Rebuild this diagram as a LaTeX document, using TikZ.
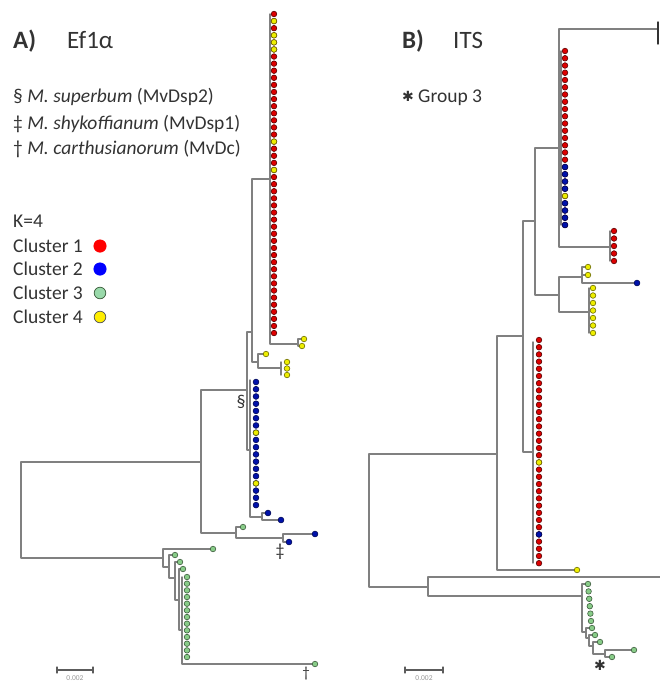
\documentclass[tikz,border=0pt]{standalone}
\usepackage{fontspec}
\setmainfont{Carlito}
\newfontfamily\symbfont{DejaVu Sans}
\definecolor{ddqqqq}{rgb}{0.8667,0,0}
\definecolor{qqrraa}{rgb}{0,0.0667,0.6667}
\definecolor{eeeeqq}{rgb}{0.9333,0.9333,0}
\definecolor{yyccyy}{rgb}{0.5333,0.8,0.5333}
\definecolor{yqyqyq}{rgb}{0.5,0.5,0.5}
\definecolor{tttttt}{rgb}{0.2,0.2,0.2}
\definecolor{ffqqqq}{rgb}{1,0,0}
\definecolor{qqqqff}{rgb}{0,0,1}
\definecolor{zzdzaa}{rgb}{0.6,0.851,0.6667}
\definecolor{ffeeqq}{rgb}{1,0.9333,0}
\definecolor{zzzzzz}{rgb}{0.6,0.6,0.6}

\begin{document}
\begin{tikzpicture}[line cap=round,line join=round,x=1pt,y=-1pt,
	branch/.style={line width=1.4pt,color=yqyqyq},
	leaf/.style={line width=0.6pt},
	reddot/.style={leaf,fill=ddqqqq,draw=ddqqqq!40!black},
	bluedot/.style={leaf,fill=qqrraa,draw=qqrraa!50!black},
	yellowdot/.style={leaf,fill=eeeeqq,draw=eeeeqq!45!black},
	greendot/.style={leaf,fill=yyccyy,draw=yyccyy!45!black},
	lbl/.style={anchor=base west,inner sep=0pt,color=tttttt,font=\fontsize{19.5}{23}\selectfont},
	title/.style={lbl,font=\fontsize{25}{30}\selectfont},
	symb/.style={inner sep=0pt,color=tttttt,font=\fontsize{18}{20}\selectfont},
	star/.style={inner sep=0pt,color=tttttt,font=\symbfont\fontsize{14}{15}\selectfont},
	scalebar/.style={line width=1.2pt,color=tttttt!80},
	scalelbl/.style={inner sep=0pt,color=zzzzzz,font=\fontsize{7.5}{8}\selectfont}]
		\useasboundingbox (0,0) rectangle (660,683);
		% A) Ef1a
		\node [title,font=\fontsize{25}{30}\selectfont\bfseries] (panelA) at (13,48) {A)};
		\node [title] (geneA) at (67,48) {Ef1α};
		\node [lbl] (superbum) at (13,102) {§ \textit{M. superbum} (MvDsp2)};
		\node [lbl] (shykoff) at (13,129) {‡ \textit{M. shykoffianum} (MvDsp1)};
		\node [lbl] (carthus) at (13,154) {† \textit{M. carthusianorum} (MvDc)};
		\node [lbl] (kvalue) at (13,227) {K=4};
		\node [lbl] (clusterA) at (13,252) {Cluster 1};
		\node [lbl] (clusterB) at (13,275) {Cluster 2};
		\node [lbl] (clusterC) at (13,299) {Cluster 3};
		\node [lbl] (clusterD) at (13,323) {Cluster 4};
		\draw [fill=ffqqqq,draw=ffqqqq] (100,246) circle (6.3pt);
		\draw [fill=qqqqff,draw=qqqqff] (100,269) circle (6.3pt);
		\draw [fill=zzdzaa,draw=yyccyy!50!black,line width=0.8pt] (100,293) circle (5.8pt);
		\draw [fill=ffeeqq,draw=tttttt!80,line width=0.8pt] (100,317) circle (5.8pt);
		% tree A
		\draw [branch] (201,462) -- (21,462) -- (21,558) -- (163,558);
		\draw [branch] (247,390) -- (201,390) -- (201,533) -- (236,533);
		\draw [branch] (252,332) -- (247,332) -- (247,450) -- (250,450);
		\draw [branch] (270,179) -- (252,179) -- (252,362) -- (258,362);
		\draw [branch] (270,14) -- (270,344) -- (298,344);
		\draw [branch] (304,339) -- (298,339) -- (298,346) -- (302,346);
		\draw [branch] (266,354) -- (258,354) -- (258,368) -- (281,368);
		\draw [branch] (281,362) -- (281,375);
		\draw [branch] (250,380) -- (250,517) -- (262,517);
		\draw [branch] (268,513) -- (262,513) -- (262,520) -- (281,520);
		\draw [branch] (243,527) -- (236,527) -- (236,538) -- (283,538);
		\draw [branch] (315,534) -- (283,534) -- (283,542) -- (289,542);
		\draw [branch] (213,549) -- (163,549) -- (163,567) -- (169,567);
		\draw [branch] (175,555) -- (169,555) -- (169,578) -- (175,578);
		\draw [branch] (180,562) -- (175,562) -- (175,600) -- (179,600);
		\draw [branch] (183,569) -- (179,569) -- (179,630) -- (182,630);
		\draw [branch] (182,577) -- (182,664) -- (315,664);
		\foreach \i in {0,...,45} \draw [reddot] (274,14+7.09*\i) circle (2.8pt);
		\foreach \i in {1,3,4,5,18,22} \draw [yellowdot] (274,14+7.09*\i) circle (2.8pt);
		\draw [yellowdot] (304,339) circle (2.8pt);
		\draw [yellowdot] (302,346) circle (2.8pt);
		\draw [yellowdot] (266,354) circle (2.8pt);
		\foreach \i in {0,1,2} \draw [yellowdot] (287,362+6.5*\i) circle (2.8pt);
		\foreach \i in {0,...,17} \draw [bluedot] (256,382+7.24*\i) circle (2.9pt);
		\foreach \i in {7,14} \draw [yellowdot] (256,382+7.24*\i) circle (2.8pt);
		\draw [bluedot] (268,513) circle (2.9pt);
		\draw [bluedot] (281,520) circle (2.9pt);
		\draw [greendot] (243,527) circle (2.8pt);
		\draw [bluedot] (315,534) circle (2.9pt);
		\draw [bluedot] (289,542) circle (2.9pt);
		\draw [greendot] (213,549) circle (2.8pt);
		\draw [greendot] (175,555) circle (2.8pt);
		\draw [greendot] (180,562) circle (2.8pt);
		\draw [greendot] (183,569) circle (2.8pt);
		\foreach \i in {0,...,12} \draw [greendot] (187,577+6.67*\i) circle (2.8pt);
		\draw [greendot] (315,664) circle (2.8pt);
		\node [symb] (sect) at (241,402) {§};
		\node [symb] (ddag) at (280,552) {‡};
		\node [symb,font=\fontsize{15}{18}\selectfont] (sdag) at (306,674) {†};
		\draw [scalebar] (57,670) -- (93,670);
		\draw [scalebar] (57,667) -- (57,673);
		\draw [scalebar] (93,667) -- (93,673);
		\node [scalelbl] (scaleA) at (75,678) {0.002};
		% B) ITS
		\node [title,font=\fontsize{25}{30}\selectfont\bfseries] (panelB) at (402,48) {B)};
		\node [title] (geneB) at (453,48) {ITS};
		\node [star] (astB) at (408,96) {✱};
		\node [lbl] (groupC) at (418,102) {Group 3};
		% tree B
		\draw [branch] (497,454) -- (369,454) -- (369,587) -- (428,587);
		\draw [branch] (660,577) -- (428,577) -- (428,596) -- (582,596);
		\draw [branch] (523,336) -- (497,336) -- (497,570) -- (577,570);
		\draw [branch] (535,221) -- (523,221) -- (523,452) -- (533,452);
		\draw [branch] (533,342) -- (533,563);
		\draw [branch] (559,148) -- (535,148) -- (535,295) -- (559,295);
		\draw [branch] (658,29) -- (559,29) -- (559,247) -- (610,247);
		\draw [branch,color=tttttt] (658,22) -- (658,44);
		\draw [branch] (561,51) -- (561,225);
		\draw [branch] (610,231) -- (610,261);
		\draw [branch] (582,277) -- (559,277) -- (559,312) -- (589,312);
		\draw [branch] (588,267) -- (582,267) -- (582,283) -- (637,283);
		\draw [branch] (582,275) -- (588,275);
		\draw [branch] (589,288) -- (589,333);
		\draw [branch] (588,584) -- (582,584) -- (582,632) -- (586,632);
		\draw [branch] (592,628) -- (586,628) -- (586,638) -- (589,638);
		\draw [branch] (595,635) -- (589,635) -- (589,646) -- (593,646);
		\draw [branch] (600,642) -- (593,642) -- (593,654) -- (605,654);
		\draw [branch] (634,650) -- (605,650) -- (605,657) -- (612,657);
		\foreach \i in {0,...,24} \draw [reddot] (565,51+7.25*\i) circle (2.8pt);
		\foreach \i in {16,17,18,19,21,22,23,24} \draw [bluedot] (565,51+7.25*\i) circle (2.9pt);
		\draw [yellowdot] (565,51+7.25*20) circle (2.8pt);
		\foreach \i in {0,...,4} \draw [reddot] (614,231+7.5*\i) circle (2.8pt);
		\draw [yellowdot] (588,267) circle (2.8pt);
		\draw [yellowdot] (588,275) circle (2.8pt);
		\draw [bluedot] (637,283) circle (2.9pt);
		\foreach \i in {0,...,6} \draw [yellowdot] (593,288+7.5*\i) circle (2.8pt);
		\foreach \i in {0,...,31} \draw [reddot] (539,340+7.2*\i) circle (2.8pt);
		\draw [yellowdot] (539,340+7.2*17) circle (2.8pt);
		\draw [bluedot] (539,340+7.2*27) circle (2.9pt);
		\draw [yellowdot] (577,570) circle (2.8pt);
		\foreach \i in {0,...,5} \draw [greendot] (588+0.6*\i,584+7.4*\i) circle (2.8pt);
		\draw [greendot] (592,628) circle (2.8pt);
		\draw [greendot] (595,635) circle (2.8pt);
		\draw [greendot] (600,642) circle (2.8pt);
		\draw [greendot] (634,650) circle (2.8pt);
		\draw [greendot] (612,657) circle (2.8pt);
		\node [star] (astTree) at (600,665) {✱};
		\draw [scalebar] (405,670) -- (443,670);
		\draw [scalebar] (405,667) -- (405,673);
		\draw [scalebar] (443,667) -- (443,673);
		\node [scalelbl] (scaleB) at (424,678) {0.002};
\end{tikzpicture}
\end{document}
